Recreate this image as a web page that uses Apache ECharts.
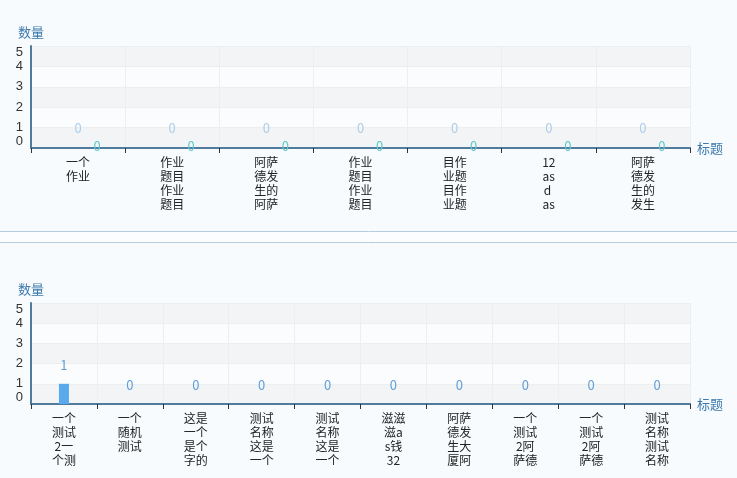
<!DOCTYPE html>
<html>
<head>
<meta charset="utf-8">
<script src="https://cdn.jsdelivr.net/npm/echarts@6/dist/echarts.min.js"></script>
<style>
html,body{margin:0;padding:0;background:#f7fbfe;}
#c{width:737px;height:478px;}
</style>
</head>
<body>
<div id="c"></div>
<script>
var topCategories = ['一个作业','作业题目作业题目','阿萨德发生的阿萨','作业题目作业题目','目作业题目作业题','12asd as','阿萨德发生的发生'];
var topSeriesA = [0,0,0,0,0,0,0];
var topSeriesB = [0,0,0,0,0,0,0];
var bottomCategories = ['一个测试2一个测','一个随机测试','这是一个是个字的','测试名称这是一个','测试名称这是一个','滋滋滋as钱32','阿萨德发生大厦阿','一个测试2阿萨德','一个测试2阿萨德','测试名称测试名称'];
var bottomValues = [1,0,0,0,0,0,0,0,0,0];
var yTicks = {min:0, max:5, interval:1};

function wrap(s){
  var out=[];
  for(var i=0;i<s.length && out.length<4;i+=2){ out.push(s.substr(i,2)); }
  return out.join('\n');
}
var axisColor='#4f7c9c';
var nameColor='#3d79ab';
var font='"Noto Sans CJK SC", sans-serif';

function xAxis(idx, data){
  return {
    type:'category', gridIndex:idx, data:data,
    name:'标题', nameLocation:'end', nameGap:7,
    nameTextStyle:{color:nameColor,fontSize:13,fontFamily:font},
    axisLine:{lineStyle:{color:axisColor,width:2}},
    axisTick:{show:true,length:5,lineStyle:{color:'#333',width:1}},
    axisLabel:{interval:0,color:'#222',fontSize:12,lineHeight:14,margin:7,fontFamily:font,formatter:wrap},
    splitLine:{show:true,lineStyle:{color:'#eceef0',width:1}}
  };
}
function yAxis(idx){
  return {
    type:'value', gridIndex:idx, min:yTicks.min, max:yTicks.max, interval:yTicks.interval,
    name:'数量', nameLocation:'end', nameGap:7,
    nameTextStyle:{color:nameColor,fontSize:13,fontFamily:font,align:'center'},
    axisLine:{show:true,lineStyle:{color:axisColor,width:2}},
    axisTick:{show:false},
    axisLabel:{color:'#333',fontSize:13,margin:8,fontFamily:'Arial, "Liberation Sans", sans-serif',
      verticalAlignMaxLabel:'top', verticalAlignMinLabel:'bottom'},
    splitLine:{show:true,lineStyle:{color:'#eceef0',width:1}},
    splitArea:{show:true,areaStyle:{color:['#f3f4f6','#fbfcfd']}}
  };
}

var chart = echarts.init(document.getElementById('c'));
chart.setOption({
  backgroundColor:'#f7fbfe',
  animation:false,
  grid:[
    {left:31, top:46, width:659, height:102},
    {left:31, top:303, width:659, height:101}
  ],
  xAxis:[xAxis(0, topCategories), xAxis(1, bottomCategories)],
  yAxis:[yAxis(0), yAxis(1)],
  graphic:[
    {type:'rect', shape:{x:0,y:231,width:737,height:11}, style:{fill:'#fbfdff'}},
    {type:'line', shape:{x1:0,y1:231.5,x2:737,y2:231.5}, style:{stroke:'#b7cddb',lineWidth:1}},
    {type:'line', shape:{x1:0,y1:242.5,x2:737,y2:242.5}, style:{stroke:'#b7cddb',lineWidth:1}}
  ],
  series:[
    {type:'bar', xAxisIndex:0, yAxisIndex:0, data:topSeriesA, barWidth:10, barGap:'-100%',
      itemStyle:{color:'#b6d4ec'},
      label:{show:true, position:'top', distance:13, color:'#aecde8', fontSize:13, fontFamily:font}},
    {type:'bar', xAxisIndex:0, yAxisIndex:0, data:topSeriesB, barWidth:10, barGap:'-100%',
      itemStyle:{color:'#7fd3d3'},
      label:{show:true, position:'inside', offset:[19,-2], color:'#5fc8c8', fontSize:13, fontFamily:font}},
    {type:'bar', xAxisIndex:1, yAxisIndex:1, data:bottomValues, barWidth:10,
      itemStyle:{color:'#58aaed'},
      label:{show:true, position:'top', distance:12, color:'#5f9fd8', fontSize:13, fontFamily:font}}
  ]
});
</script>
</body>
</html>
